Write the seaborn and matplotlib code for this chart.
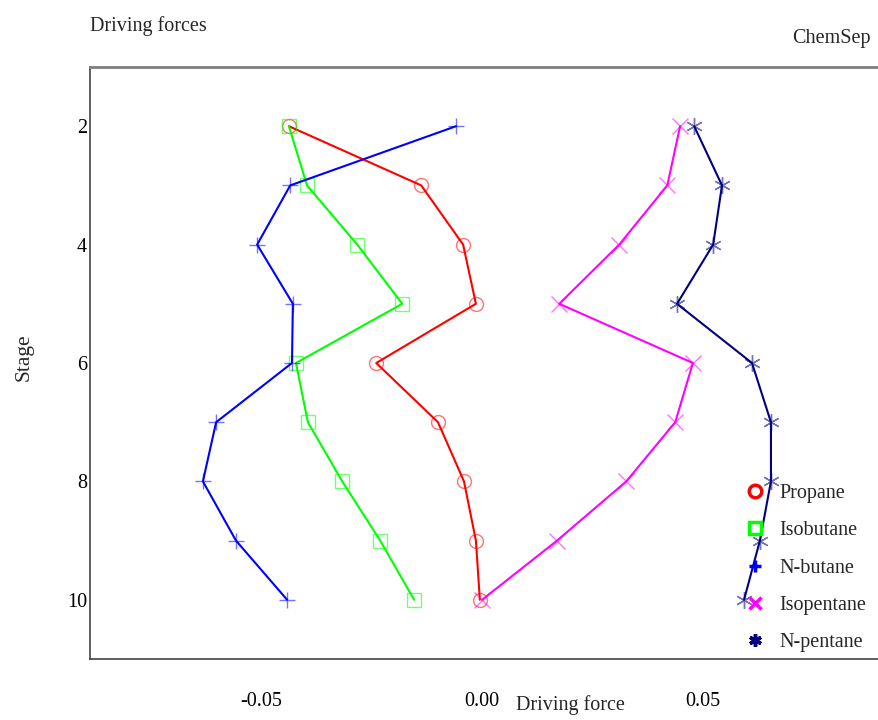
import matplotlib
matplotlib.use("Agg")
import matplotlib.pyplot as plt
from matplotlib.lines import Line2D
import seaborn as sns
import pandas as pd

stages = [2, 3, 4, 5, 6, 7, 8, 9, 10]
propane = [-0.0438, -0.0138, -0.0043, -0.0014, -0.0240, -0.0100, -0.0041, -0.0014, -0.0005]
isobutane = [-0.0438, -0.0397, -0.0283, -0.0181, -0.0422, -0.0395, -0.0317, -0.0231, -0.0154]
n_butane = [-0.0059, -0.0435, -0.0510, -0.0429, -0.0431, -0.0603, -0.0633, -0.0558, -0.0442]
isopentane = [0.0449, 0.0420, 0.0311, 0.0175, 0.0478, 0.0438, 0.0327, 0.0170, 0.0000]
n_pentane = [0.0481, 0.0544, 0.0524, 0.0442, 0.0612, 0.0655, 0.0655, 0.0630, 0.0594]

names = ["Propane", "Isobutane", "N-butane", "Isopentane", "N-pentane"]
series = [propane, isobutane, n_butane, isopentane, n_pentane]
colors = ["#FF0000", "#00FF00", "#0000FF", "#FF00FF", "#000080"]
markers = ["o", "s", "+", "x", (6, 2, 0)]
msizes = [10, 10, 12, 12, 12]

sns.set_theme(style="white")
plt.rcParams["font.family"] = ["Liberation Serif", "DejaVu Serif"]

fig = plt.figure(figsize=(8.79, 7.2), dpi=100)
ax = fig.add_axes([90 / 879, 1 - 659 / 720, (879 - 90) / 879, (659 - 67) / 720])

for name, vals, c, m, ms in zip(names, series, colors, markers, msizes):
    df = pd.DataFrame({"force": vals, "stage": stages})
    sns.lineplot(data=df, x="force", y="stage", sort=False, estimator=None,
                 color=c, lw=1.5, marker=m, markersize=ms, mfc="none",
                 mec=c, mew=1.0, ax=ax, legend=False)
for ln in ax.lines:
    ln.set_markeredgecolor(matplotlib.colors.to_rgba(ln.get_color(), 0.55))

ax.set_xlim(-0.0889, 0.0900)
ax.set_ylim(11, 1)
ax.set_xticks([-0.05, 0.0, 0.05])
ax.set_xticklabels(["-0.05", "0.00", "0.05"])
ax.set_yticks([2, 4, 6, 8, 10])
ax.tick_params(axis="x", direction="in", length=11, width=1, colors="#333333",
               labelsize=14.5, pad=24, labelcolor="black")
ax.tick_params(axis="y", direction="in", length=14, width=1.5, colors="#808080",
               labelsize=14.5, pad=2, labelcolor="black")

ax.spines["right"].set_visible(False)
ax.spines["top"].set_color("#808080")
ax.spines["top"].set_linewidth(2)
ax.spines["left"].set_color("#444444")
ax.spines["left"].set_linewidth(1.2)
ax.spines["bottom"].set_color("#444444")
ax.spines["bottom"].set_linewidth(1.2)

ax.set_xlabel("Driving force", fontsize=14.5)
ax.xaxis.set_label_coords((570 - 90) / (879 - 90), -(705 - 659) / (659 - 67))
ax.xaxis.label.set_va("center")
ax.set_ylabel("Stage", fontsize=15.5)
ax.yaxis.set_label_coords(-(90 - 24) / (879 - 90), 0.51)
ax.yaxis.label.set_va("center")

fig.text(90 / 879, 1 - 26 / 720, "Driving forces", ha="left", va="center", fontsize=14.5)
fig.text(871 / 879, 1 - 38 / 720, "ChemSep", ha="right", va="center", fontsize=14.5)

handles = [Line2D([], [], ls="none", marker=m, color=c, mfc="none", mec=c,
                  mew=2.5, markersize=9) for c, m in zip(colors, markers)]
leg = ax.legend(handles, names, loc="upper left", bbox_to_anchor=(735 / 879, 1 - 474 / 720),
                bbox_transform=fig.transFigure, frameon=False, fontsize=14.5,
                handlelength=1.0, handletextpad=0.7, labelspacing=0.9, borderpad=0)

fig.savefig("out.png", dpi=100)
